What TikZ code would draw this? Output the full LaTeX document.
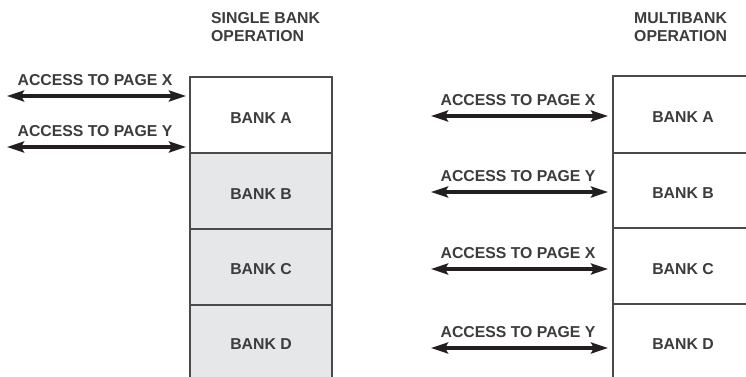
\documentclass[tikz,border=0pt]{standalone}
\usepackage{fontspec}
\setmainfont{Liberation Sans}
\usetikzlibrary{arrows.meta}
\definecolor{txt}{HTML}{3C3C3C}
\definecolor{edge}{HTML}{4A4A4A}
\definecolor{bankfill}{HTML}{E6E7E9}
\definecolor{arr}{HTML}{231F20}
\begin{document}
\begin{tikzpicture}[x=1pt,y=-1pt,
  lbl/.style={font=\fontsize{15.8}{18}\selectfont\bfseries, text=txt, inner sep=0pt},
  title/.style={lbl, align=left, anchor=north west},
  bankbox/.style={draw=edge, line width=2pt},
  acc/.style={arr, line width=3.3pt, {Stealth[length=17pt,width=11pt,inset=3pt]}-{Stealth[length=17pt,width=11pt,inset=3pt]}}
]
\useasboundingbox (0,0) rectangle (746,377);
\begin{scope}
\clip (0,0) rectangle (746,377);
% left column
\draw[bankbox, fill=white] (190,77) rectangle (332,153);
\draw[bankbox, fill=bankfill] (190,153) rectangle (332,229);
\draw[bankbox, fill=bankfill] (190,229) rectangle (332,305);
\draw[bankbox, fill=bankfill] (190,305) rectangle (332,390);
% right column
\draw[bankbox] (613,76) rectangle (760,153);
\draw[bankbox] (613,153) rectangle (760,228);
\draw[bankbox] (613,228) rectangle (760,304);
\draw[bankbox] (613,304) rectangle (760,390);
\end{scope}
% titles
\node[title] (t1) at (211,12) {SINGLE BANK\\OPERATION};
\node[title] (t2) at (634,12) {MULTIBANK\\OPERATION};
% bank labels
\node[lbl] (la) at (261,118) {BANK A};
\node[lbl] (lb) at (261,194) {BANK B};
\node[lbl] (lc) at (261,269) {BANK C};
\node[lbl] (ld) at (261,344) {BANK D};
\node[lbl] (ra) at (683,117) {BANK A};
\node[lbl] (rb) at (683,193) {BANK B};
\node[lbl] (rc) at (683,269) {BANK C};
\node[lbl] (rd) at (683,344) {BANK D};
% left arrows
\coordinate (lx1) at (7,96); \coordinate (lx2) at (186,96);
\coordinate (ly1) at (7,147); \coordinate (ly2) at (186,147);
\draw[acc] (lx1) -- (lx2);
\draw[acc] (ly1) -- (ly2);
\node[lbl] (lxl) at (95,80) {ACCESS TO PAGE X};
\node[lbl] (lyl) at (95,131) {ACCESS TO PAGE Y};
% right arrows
\foreach \n/\y/\t in {a/116/X, b/192/Y, c/269/X, d/348/Y}{
  \coordinate (r\n1) at (431,\y); \coordinate (r\n2) at (608,\y);
  \draw[acc] (r\n1) -- (r\n2);
  \node[lbl] (r\n l) at (518,\y-16) {ACCESS TO PAGE \t};
}
\end{tikzpicture}
\end{document}
